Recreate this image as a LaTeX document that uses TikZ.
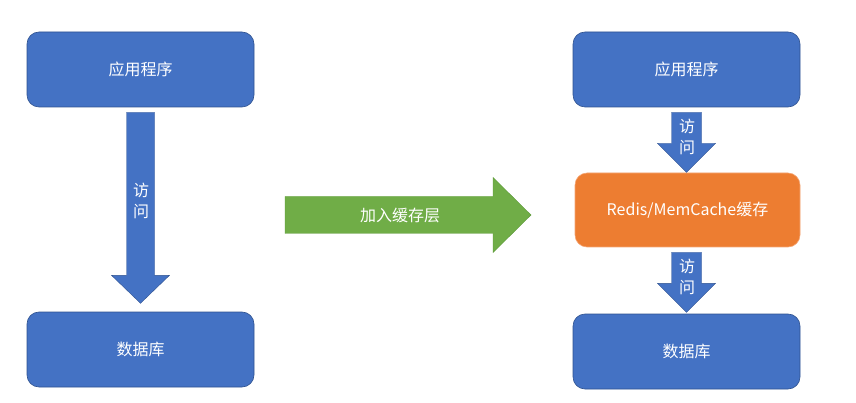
\documentclass[tikz,border=0pt]{standalone}
\usepackage{fontspec}
\newfontfamily\cjk{Noto Sans CJK SC}
\usetikzlibrary{positioning,calc}
\definecolor{boxblue}{HTML}{4472C4}
\definecolor{boxline}{HTML}{2F528F}
\definecolor{cacheorange}{HTML}{ED7D31}
\definecolor{cacheline}{HTML}{F4A574}
\definecolor{stepgreen}{HTML}{70AD47}
\definecolor{greenline}{HTML}{5E9A3A}
\tikzset{
  box/.style={draw=boxline,fill=boxblue,text=white,rounded corners=12pt,line width=.6pt,
    minimum width=227pt,minimum height=75pt,font=\cjk\fontsize{16}{20}\selectfont},
  cachebox/.style={box,draw=cacheline,fill=cacheorange,minimum width=225pt,minimum height=74pt},
  blockfill/.style={fill=boxblue,draw=boxline,line width=.4pt},
  label/.style={text=white,align=center,font=\cjk\fontsize{16}{21}\selectfont}
}
% downward block arrow: start, length, half shaft, half head, head length
\newcommand{\blockdown}[5]{%
  \filldraw[blockfill] ($#1+(-#3,0)$) -- ++(0,{#2-#5}) -- ++({#3-#4},0) -- ($#1+(0,#2)$)
    -- ($#1+(#4,{#2-#5})$) -- ++({#3-#4},0) -- ($#1+(#3,0)$) -- cycle;}

\begin{document}
\begin{tikzpicture}[x=1pt,y=-1pt]
\useasboundingbox (0,0) rectangle (856,403);
% before
\node[box] (app) at (140.5,69.5){应用程序};
\node[box] (db) at (140.5,349.5){数据库};
\blockdown{($(app.south)+(0,5)$)}{191}{14}{29}{28}
\node[label] (visit) at (141,201){访\\问};
% step
\coordinate (gstart) at (285,215);
\filldraw[fill=stepgreen,draw=greenline,line width=.4pt] ($(gstart)+(0,-18.5)$) -- ++(208,0) -- ++(0,-19)
  -- ($(gstart)+(246,0)$) -- ($(gstart)+(208,37.5)$) -- ++(0,-19) -- ($(gstart)+(0,18.5)$) -- cycle;
\node[label] (add) at (400,215){加入缓存层};
% after
\node[box] (app2) at (686.5,69.5){应用程序};
\node[cachebox] (cache) at (687.5,210){Redis/MemCache缓存};
\node[box] (db2) at (686.5,351.5){数据库};
\blockdown{($(app2.south)+(0,5)$)}{60}{15}{29}{29}
\blockdown{($(cache.south)+(-1,5)$)}{60}{15}{29}{29}
\node[label] (visit2) at (687,137){访\\问};
\node[label] (visit3) at (687,277){访\\问};
\end{tikzpicture}
\end{document}
